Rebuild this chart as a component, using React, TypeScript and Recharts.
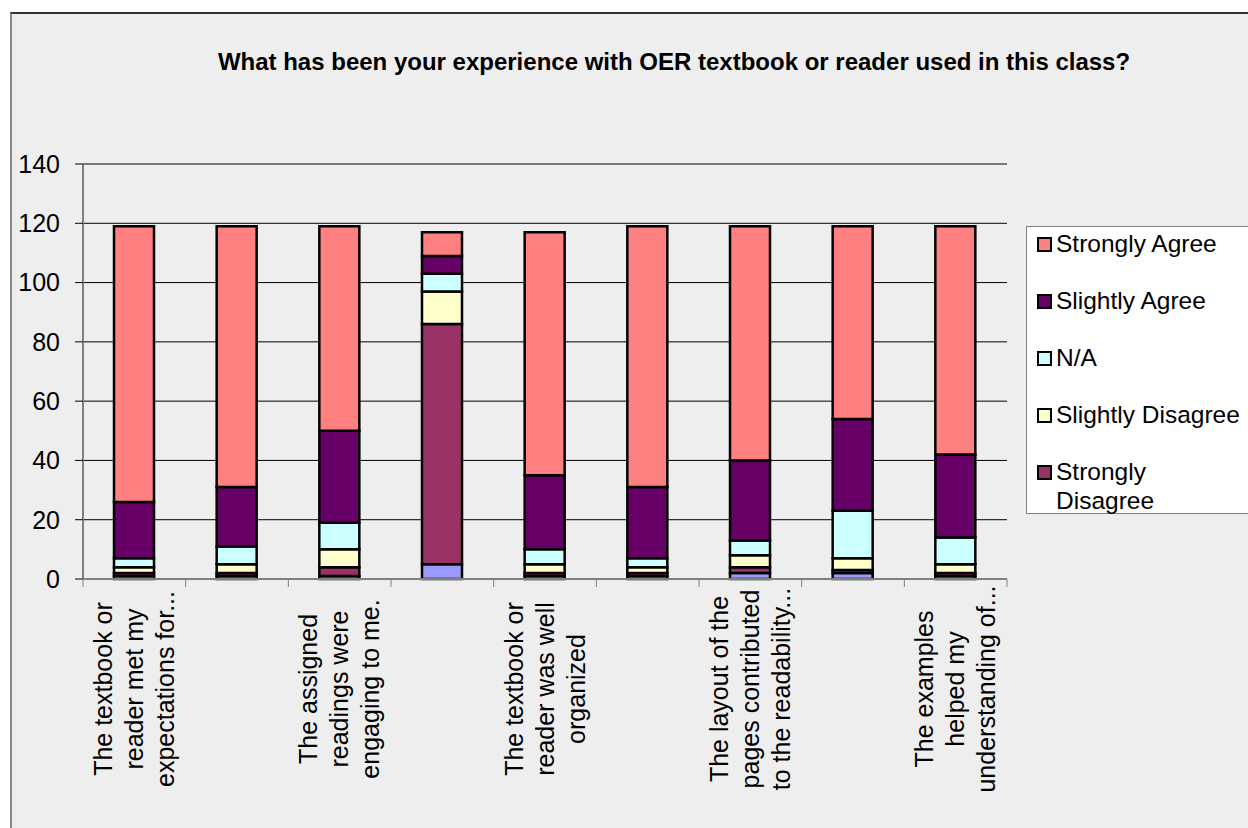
import { BarChart, Bar, XAxis, YAxis, CartesianGrid } from 'recharts';

const categories = [
  'The textbook or\nreader met my\nexpectations for...',
  'Item 2',
  'The assigned\nreadings were\nengaging to me.',
  'Item 4',
  'The textbook or\nreader was well\norganized',
  'Item 6',
  'The layout of the\npages contributed\nto the readability...',
  'Item 8',
  'The examples\nhelped my\nunderstanding of...',
];

// stacked bottom -> top
const noResponse = [1, 1, 1, 5, 1, 1, 2, 2, 1];
const stronglyDisagree = [1, 1, 3, 81, 1, 1, 2, 1, 1];
const slightlyDisagree = [2, 3, 6, 11, 3, 2, 4, 4, 3];
const notApplicable = [3, 6, 9, 6, 5, 3, 5, 16, 9];
const slightlyAgree = [19, 20, 31, 6, 25, 24, 27, 31, 28];
const stronglyAgree = [93, 88, 69, 8, 82, 88, 79, 65, 77];

const yTicks = [0, 20, 40, 60, 80, 100, 120, 140];

const series = [
  { key: 'noResponse', name: 'No Response', color: '#9999ff', legend: false },
  { key: 'stronglyDisagree', name: 'Strongly\nDisagree', color: '#993366', legend: true },
  { key: 'slightlyDisagree', name: 'Slightly Disagree', color: '#ffffcc', legend: true },
  { key: 'notApplicable', name: 'N/A', color: '#ccffff', legend: true },
  { key: 'slightlyAgree', name: 'Slightly Agree', color: '#660066', legend: true },
  { key: 'stronglyAgree', name: 'Strongly Agree', color: '#ff8080', legend: true },
];

const data = categories.map((name, i) => ({
  name,
  noResponse: noResponse[i],
  stronglyDisagree: stronglyDisagree[i],
  slightlyDisagree: slightlyDisagree[i],
  notApplicable: notApplicable[i],
  slightlyAgree: slightlyAgree[i],
  stronglyAgree: stronglyAgree[i],
}));

const FONT = "'Liberation Sans', Arial, sans-serif";
const W = 1248;
const H = 828;
const PLOT_LEFT = 83;
const PLOT_RIGHT = 1007;
const PLOT_TOP = 164;
const PLOT_BOTTOM = 579;
const BAND = (PLOT_RIGHT - PLOT_LEFT) / categories.length;

function CategoryTick(props: any) {
  const { x, index, payload } = props;
  const lines = String(payload.value).split('\n');
  const lineGap = 31;
  const cy = PLOT_BOTTOM + 110;
  return (
    <g>
      {index === 0 && (
        <line x1={x - BAND / 2} x2={x - BAND / 2} y1={PLOT_BOTTOM} y2={PLOT_BOTTOM + 8} stroke="#808080" />
      )}
      <line x1={x + BAND / 2} x2={x + BAND / 2} y1={PLOT_BOTTOM} y2={PLOT_BOTTOM + 8} stroke="#808080" />
      {index % 2 === 0 && (
        <text
          transform={`translate(${x},${cy}) rotate(-90)`}
          textAnchor="middle"
          fontSize={25}
          fontFamily={FONT}
          fill="#000"
        >
          {lines.map((l, i) => (
            <tspan key={i} x={0} y={(i - (lines.length - 1) / 2) * lineGap} dy="0.35em">
              {l}
            </tspan>
          ))}
        </text>
      )}
    </g>
  );
}

function LegendBox() {
  const items = series.filter((s) => s.legend).reverse();
  return (
    <div
      style={{
        position: 'absolute',
        left: 1026,
        top: 226,
        width: 240,
        height: 288,
        background: '#ffffff',
        border: '1px solid #808080',
        fontFamily: FONT,
        fontSize: 24.5,
        color: '#000',
        boxSizing: 'border-box',
      }}
    >
      {items.map((s, i) => (
        <div
          key={s.key}
          style={{ position: 'absolute', left: 10, top: 2 + i * 57, display: 'flex', alignItems: 'flex-start', lineHeight: '29px' }}
        >
          <span
            style={{
              display: 'inline-block',
              width: 11,
              height: 11,
              border: '2px solid #000',
              background: s.color,
              marginTop: 8,
              marginRight: 4,
            }}
          />
          <span style={{ whiteSpace: 'pre' }}>{s.name}</span>
        </div>
      ))}
    </div>
  );
}

export default function App() {
  return (
    <div style={{ position: 'absolute', left: 0, top: 0, width: W, height: H, background: '#fff', overflow: 'hidden' }}>
      <div
        style={{
          position: 'absolute',
          left: 10,
          top: 12,
          width: W,
          height: H,
          background: '#eeeeee',
          borderLeft: '2px solid #888',
          borderTop: '2px solid #333',
        }}
      />
      <div
        style={{
          position: 'absolute',
          left: 674,
          top: 48,
          transform: 'translateX(-50%)',
          whiteSpace: 'nowrap',
          fontFamily: FONT,
          fontSize: 24,
          fontWeight: 'bold',
          color: '#000',
        }}
      >
        What has been your experience with OER textbook or reader used in this class?
      </div>
      <div style={{ position: 'absolute', left: 0, top: 0 }}>
        <BarChart
          width={W}
          height={H}
          data={data}
          barSize={40}
          margin={{ top: PLOT_TOP, right: W - PLOT_RIGHT, bottom: 0, left: 0 }}
        >
          <CartesianGrid horizontal vertical={false} stroke="#000" strokeOpacity={1} />
          <XAxis
            dataKey="name"
            interval={0}
            height={H - PLOT_BOTTOM}
            tickLine={false}
            axisLine={{ stroke: '#808080', strokeWidth: 2 }}
            tick={<CategoryTick />}
          />
          <YAxis
            width={PLOT_LEFT}
            domain={[0, 140]}
            ticks={yTicks}
            interval={0}
            tickSize={8}
            tickMargin={15}
            axisLine={{ stroke: '#808080', strokeWidth: 2 }}
            tickLine={{ stroke: '#000' }}
            tick={{ fill: '#000', fontSize: 25, fontFamily: FONT }}
          />
          {series.map((s) => (
            <Bar
              key={s.key}
              dataKey={s.key}
              name={s.name}
              stackId="a"
              fill={s.color}
              stroke="#000"
              strokeWidth={2.5}
              isAnimationActive={false}
            />
          ))}
        </BarChart>
      </div>
      <LegendBox />
    </div>
  );
}
